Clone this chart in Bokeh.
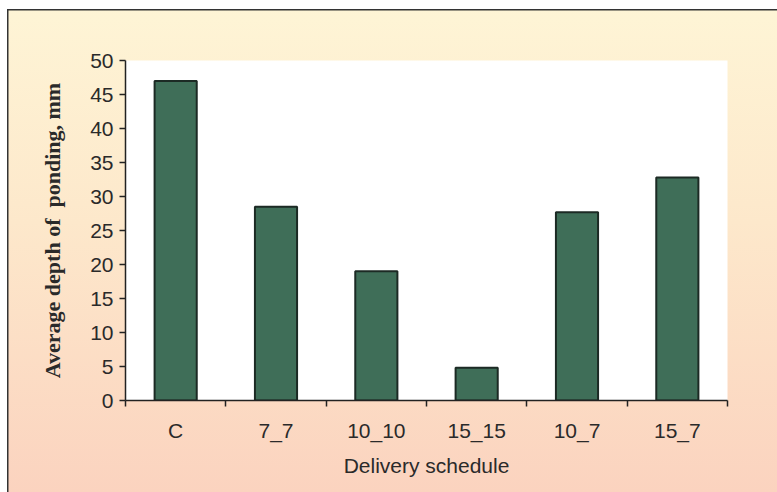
from bokeh.plotting import figure
from bokeh.models import FixedTicker, Range1d, ColumnDataSource
from bokeh.embed import file_html
from bokeh.resources import INLINE

# Average ponding depth (mm) for each irrigation delivery schedule
schedules = ["C", "7_7", "10_10", "15_15", "10_7", "15_7"]
depth_mm = [47.0, 28.5, 19.0, 4.8, 27.7, 32.8]
y_ticks = [0, 5, 10, 15, 20, 25, 30, 35, 40, 45, 50]

W, H = 777, 492
n = len(schedules)
centers = [i + 0.5 for i in range(n)]
bounds = list(range(n + 1))

p = figure(width=W, height=H, output_backend="svg", toolbar_location=None,
           x_range=Range1d(0, n), y_range=Range1d(0, 50),
           min_border_left=125, min_border_right=50,
           min_border_top=60, min_border_bottom=92)

# transparent border so the gradient panel shows through around the plot
p.border_fill_color = None
p.background_fill_color = "white"
p.outline_line_color = None
p.grid.visible = False

# panel layers, topmost first: frame lines, white margins, cream-to-peach gradient
panel = {
    "background-color": "#fbd3bf",
    "background-image": ("linear-gradient(#333333, #333333), "
                         "linear-gradient(#333333, #333333), "
                         "linear-gradient(white, white), "
                         "linear-gradient(white, white), "
                         "linear-gradient(to bottom, #fef5d6 0%, #fde8cb 45%, #fbd3bf 100%)"),
    "background-position": "7px 9px, 7px 9px, 0 0, 0 0, 0 0",
    "background-size": "900px 1.5px, 1.5px 600px, 7px 600px, 900px 9px, 900px 492px",
    "background-repeat": "no-repeat",
}
p.styles = dict(panel)

src = ColumnDataSource(dict(x=centers, top=depth_mm))
p.vbar(x="x", top="top", bottom=0, width=0.42, source=src,
       fill_color="#3f6e58", line_color="#1c2a24", line_width=2)

# x axis: labels at bar centres, tick marks between the bars
xa = p.xaxis[0]
xa.ticker = FixedTicker(ticks=centers, minor_ticks=bounds)
xa.major_label_overrides = {c: s for c, s in zip(centers, schedules)}
xa.major_tick_line_color = None
xa.minor_tick_line_color = "#222222"
xa.minor_tick_line_width = 1.5
xa.minor_tick_in = 0
xa.minor_tick_out = 6
xa.axis_line_color = "#222222"
xa.axis_line_width = 1.5
xa.major_label_standoff = 12
xa.major_label_text_font = "Liberation Sans"
xa.major_label_text_font_size = "21px"
xa.major_label_text_color = "#2a2a2a"
xa.axis_label = "Delivery schedule"
xa.axis_label_text_font = "Liberation Sans"
xa.axis_label_text_font_size = "21px"
xa.axis_label_text_font_style = "normal"
xa.axis_label_text_color = "#2a2a2a"
xa.axis_label_standoff = 9

ya_ax = p.yaxis[0]
ya_ax.ticker = FixedTicker(ticks=y_ticks)
ya_ax.minor_tick_line_color = None
ya_ax.major_tick_line_color = "#222222"
ya_ax.major_tick_line_width = 1.5
ya_ax.major_tick_in = 0
ya_ax.major_tick_out = 6
ya_ax.axis_line_color = "#222222"
ya_ax.axis_line_width = 1.5
ya_ax.major_label_standoff = 6
ya_ax.major_label_text_font = "Liberation Sans"
ya_ax.major_label_text_font_size = "21px"
ya_ax.major_label_text_color = "#2a2a2a"
ya_ax.axis_label = "Average depth of \u00a0ponding, mm"
ya_ax.axis_label_text_font = "Liberation Serif"
ya_ax.axis_label_text_font_size = "22px"
ya_ax.axis_label_text_font_style = "bold"
ya_ax.axis_label_text_color = "#2a2a2a"
ya_ax.axis_label_standoff = 22

# same panel on the page itself, so any strip outside the plot element matches
decl = "".join("%s:%s !important;" % kv for kv in panel.items())
root_css = "html,body{margin:0 !important;padding:0 !important;%s}" % decl

html = file_html(p, INLINE)
html = html.replace("</head>", "<style>%s</style>\n</head>" % root_css, 1)
open("out.html", "w").write(html)
